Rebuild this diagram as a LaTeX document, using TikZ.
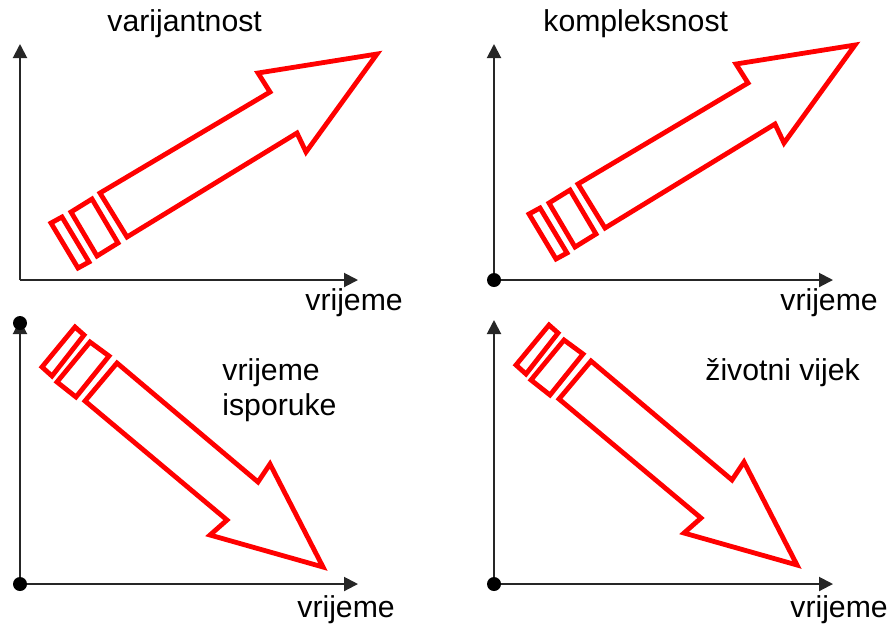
\documentclass[tikz,border=0pt]{standalone}
\usepackage{fontspec}
\setmainfont{Liberation Sans}
\usetikzlibrary{arrows.meta}
\newcommand\ArrowUpShape{%
  \draw[redshape] (100,193) -- (270,92) -- (258,73) -- (377,54) -- (306,152) -- (297,133) -- (127,237) -- cycle;
  \draw[redshape] (71,212) -- (92,199) -- (118,243) -- (97,256) -- cycle;
  \draw[redshape] (51,223) -- (62,217) -- (89,262) -- (78,268) -- cycle;
}
\newcommand\ArrowDownShape{%
  \draw[redshape] (117,363) -- (258,482) -- (270,464) -- (323,567) -- (210,535) -- (227,520) -- (85,401) -- cycle;
  \draw[redshape] (90,342) -- (109,356) -- (76,397) -- (57,382) -- cycle;
  \draw[redshape] (75,327) -- (84,335) -- (52,376) -- (42,367) -- cycle;
}
\tikzset{
  redshape/.style={draw=red, line width=2.4pt, miter limit=10},
  axisline/.style={draw=black!85, line width=1pt, -{Triangle[length=7pt,width=7pt]}},
  dotmark/.style={fill=black},
  lbl/.style={anchor=base west, inner sep=0pt, font=\fontsize{15.1}{18}\selectfont}
}
\begin{document}
\begin{tikzpicture}[x=0.5pt,y=-0.5pt]
\useasboundingbox (0,0) rectangle (887,629);
% axes coordinates
\coordinate (o1) at (20,280);  \coordinate (y1) at (20,44);  \coordinate (x1) at (358,280);
\coordinate (o2) at (494,280); \coordinate (y2) at (494,44); \coordinate (x2) at (833,280);
\coordinate (o3) at (20,584);  \coordinate (y3) at (20,320); \coordinate (x3) at (358,584);
\coordinate (o4) at (494,584); \coordinate (y4) at (494,320);\coordinate (x4) at (833,584);
\foreach \i in {1,2,3,4}{
  \draw[axisline] (o\i) -- (y\i);
  \draw[axisline] (o\i) -- (x\i);
}
\fill[dotmark] (o2) circle (3.5pt);
\fill[dotmark] (o3) circle (3.5pt);
\fill[dotmark] (o4) circle (3.5pt);
\fill[dotmark] (20,323) circle (3.5pt);
% red arrows
\ArrowUpShape
\begin{scope}[shift={(478,-9)}]\ArrowUpShape\end{scope}
\ArrowDownShape
\begin{scope}[shift={(474,-2)}]\ArrowDownShape\end{scope}
% labels
\node[lbl] (t1) at (107,31) {varijantnost};
\node[lbl] (t2) at (543,31) {kompleksnost};
\node[lbl] (v1) at (305,310) {vrijeme};
\node[lbl] (v2) at (780,310) {vrijeme};
\node[lbl] (v3) at (297,617) {vrijeme};
\node[lbl] (v4) at (790,617) {vrijeme};
\node[lbl] (t3) at (222,380) {vrijeme};
\node[lbl] (t3b) at (222,415) {isporuke};
\node[lbl] (t4) at (705,380) {životni vijek};
\end{tikzpicture}
\end{document}
